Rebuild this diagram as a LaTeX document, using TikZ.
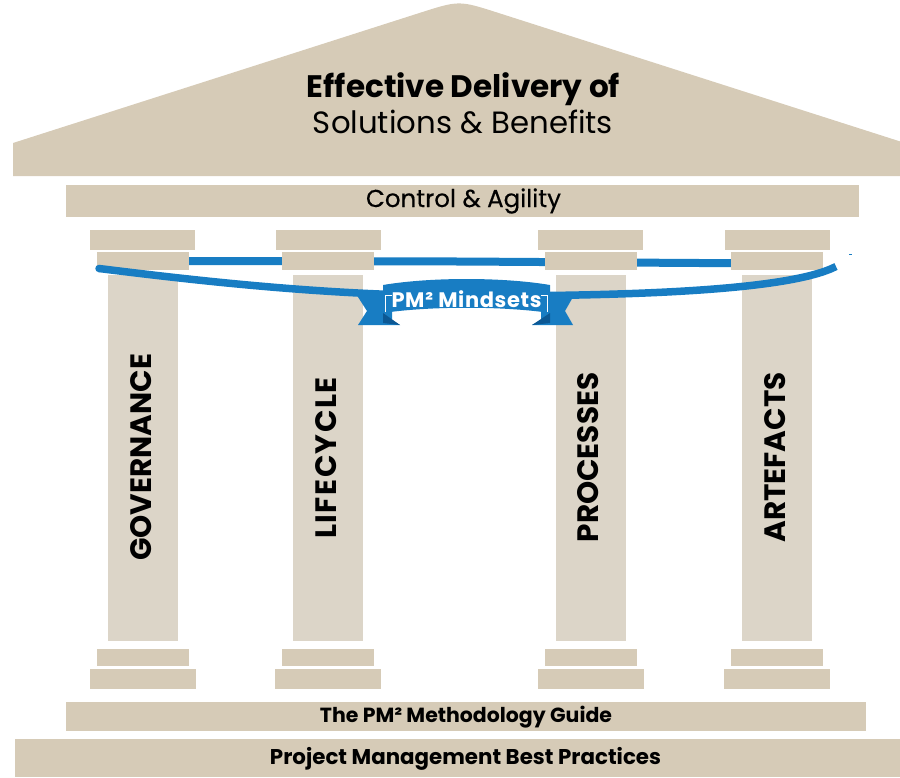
\documentclass[tikz,border=0pt]{standalone}
\usepackage{fontspec}
\setmainfont{Poppins}
\newfontfamily\pop{Poppins}
\newfontfamily\popmed[FakeBold=0.4]{Poppins}
\begin{document}
\begin{tikzpicture}[x=1pt,y=-1pt]
\definecolor{beige}{RGB}{214,203,183}
\definecolor{shaftc}{RGB}{220,213,200}
\definecolor{pmblue}{RGB}{24,125,195}
\definecolor{pmdark}{RGB}{12,88,148}
\tikzset{
  stone/.style={fill=beige},
  shaftstone/.style={fill=shaftc},
  pillartext/.style={rotate=90, inner sep=0pt, anchor=center, text=black,
    font=\pop\bfseries\fontsize{29.5}{29.5}\selectfont},
  headtext/.style={inner sep=0pt, anchor=base, text=black},
  bandline/.style={draw=pmblue, line width=8pt},
}
\useasboundingbox (0,0) rectangle (900,777);
% roof
\fill[stone] (13,176) -- (13,143) -- (420,12.8) .. controls (459,0.3) .. (498,12.8)
  -- (900,141.4) -- (900,176) -- cycle;
\node[headtext] (roof1) at (463.5,97) {\resizebox{313pt}{!}{\bfseries Effective Delivery of}};
\node[headtext] (roof2) at (463,133) {\resizebox{300pt}{!}{Solutions \& Benefits}};
% control bar
\fill[stone] (66,185) rectangle (859,217);
\node[headtext] (ctrl) at (463.5,207) {\resizebox{195pt}{!}{\popmed Control \& Agility}};
% back band line
\draw[bandline] (150,261) -- (460,261.5) -- (780,263.5);
% columns
\foreach \c in {142.5,328,590.5,777} {
  \fill[stone] (\c-52.5,230) rectangle (\c+52.5,250);
  \fill[stone] (\c-46,252) rectangle (\c+46,270);
  \fill[shaftstone] (\c-35,275) rectangle (\c+35,641);
  \fill[stone] (\c-46,649) rectangle (\c+46,666);
  \fill[stone] (\c-53,669) rectangle (\c+53,689);
}
\node[pillartext] (gov) at (141,457.5) {GOVERNANCE};
\node[pillartext] (life) at (326.5,458) {\addfontfeature{LetterSpace=5}LIFECYCLE};
\node[pillartext] (proc) at (588.5,457.5) {PROCESSES};
\node[pillartext] (art) at (775.5,457.5) {ARTEFACTS};
% front band curve
\draw[draw=pmblue, line width=7.5pt] (99,268.5) .. controls (200,281) and (330,296) .. (470,296)
  .. controls (640,296) and (790,290) .. (836,266.5);
\fill[pmblue] (99,268.5) circle (3.75pt);
\fill[pmblue] (849,253.5) rectangle (852,255);
% ribbon tails
\fill[pmblue] (358,297) -- (392,297) -- (392,320) -- (400,325) -- (358,325) -- (367,311) -- cycle;
\fill[pmdark] (383,313) -- (400,325) -- (383,323) -- cycle;
\fill[pmblue] (573,297) -- (541,297) -- (541,320) -- (532,325) -- (573,325) -- (565,311) -- cycle;
\fill[pmdark] (550,313) -- (532,325) -- (550,323) -- cycle;
% ribbon panel
\fill[pmblue] (383,285) .. controls (430,277) and (503,277) .. (550,285) -- (550,313)
  .. controls (503,306) and (430,306) .. (383,313) -- cycle;
\draw[white, line width=0.6pt] (392,295.5) -- (385.5,295.5) -- (385.5,312);
\draw[white, line width=0.6pt] (541,295.5) -- (547.5,295.5) -- (547.5,312);
\node[inner sep=0pt, anchor=base, text=white] (mind) at (466.5,307)
  {\resizebox{150pt}{!}{\pop\bfseries\addfontfeature{LetterSpace=3}PM² Mindsets}};
% base bars
\fill[stone] (66,702) rectangle (866,731);
\node[headtext] (guide) at (466,722) {\resizebox{292pt}{!}{\bfseries The PM² Methodology Guide}};
\fill[stone] (15,739) rectangle (900,777);
\node[headtext] (best) at (465.5,764) {\resizebox{391pt}{!}{\bfseries Project Management Best Practices}};
\end{tikzpicture}
\end{document}
